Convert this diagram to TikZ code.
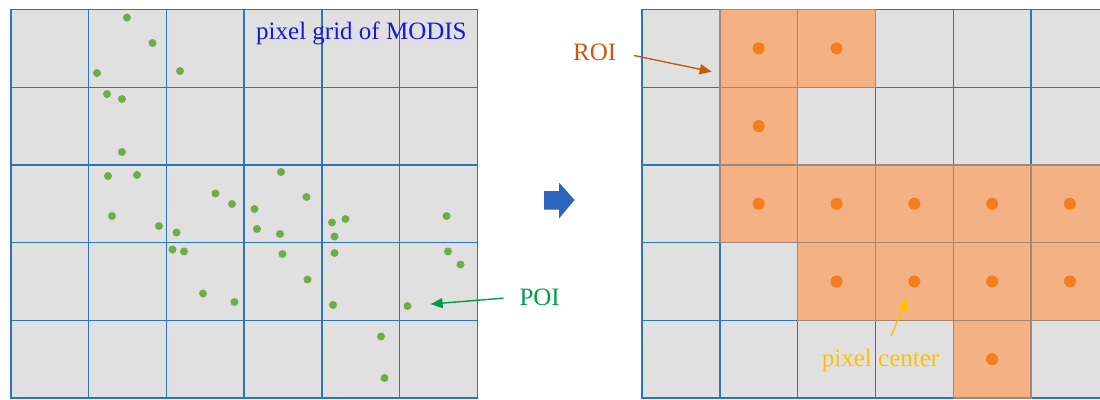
\documentclass[tikz,border=0pt]{standalone}
\usepackage{fontspec}
\setmainfont{Liberation Serif}
\usetikzlibrary{arrows.meta}

\definecolor{cellgray}{RGB}{224,224,224}
\definecolor{gridblue}{RGB}{46,117,182}
\definecolor{roifill}{RGB}{244,177,131}
\definecolor{roiline}{RGB}{160,135,120}
\definecolor{dotorange}{RGB}{245,125,30}
\definecolor{dotgreen}{RGB}{112,173,71}
\definecolor{poigreen}{RGB}{0,155,75}
\definecolor{roibrown}{RGB}{197,90,17}
\definecolor{centeryellow}{RGB}{255,192,0}
\definecolor{titleblue}{RGB}{25,25,210}
\definecolor{stepblue}{RGB}{45,100,190}

\begin{document}
\begin{tikzpicture}[x=1pt, y=-1pt,
    cell/.style={fill=cellgray, draw=gridblue, line width=1.4pt},
    roicell/.style={fill=roifill, draw=roiline, line width=1.4pt},
    poi/.style={circle, fill=dotgreen, inner sep=0pt, minimum size=8pt},
    pixdot/.style={circle, fill=dotorange, inner sep=0pt, minimum size=12pt},
    tag/.style={inner sep=0pt, anchor=base west, font=\fontsize{25}{30}\selectfont},
    >={Triangle[length=12pt, width=10pt]}]

\useasboundingbox (0,0) rectangle (1100,399);
\clip (0,0) rectangle (1100,399);

% Left grid with the POIs
\foreach \i in {0,...,5}
  \foreach \j in {0,...,4}
    \draw[cell] ({11+77.7*\i},{9.5+77.7*\j}) rectangle ++(77.7,77.7);
\foreach \x/\y [count=\k] in {127/17.5, 152.5/43, 97/73, 180/71, 107/94, 122/99,
    122/152, 108/176, 137/175, 281/172, 215.5/193.5, 306.5/197, 232/204,
    112/216, 254.5/209, 159/226, 176.5/232.5, 257/229, 280/234, 332/222.5,
    345.5/219, 334.5/236.5, 446.5/216, 172.5/249.5, 184/251.5, 282.5/254,
    334.5/253, 448/251.5, 460.5/264.5, 307.5/279.5, 203/293.5, 234.5/302,
    333/305, 381/336.5, 384.5/378}
  \node[poi] (g\k) at (\x,\y) {};
\node[poi] (gpoi) at (407.5,306) {};
\node[tag, text=titleblue] (title) at (256,39.3) {pixel grid of MODIS};
\node[tag, text=poigreen] (poilabel) at (519.3,305) {POI};
\draw[->, poigreen, line width=1.4pt, shorten <=16pt, shorten >=19pt] (poilabel.west) -- (gpoi);

% Step arrow
\fill[stepblue] (544,191) -- (559,191) -- (559,182.5) -- (574.5,200) -- (559,218.5)
  -- (559,209.5) -- (544,209.5) -- cycle;

% Right grid with the ROI
\foreach \i in {0,...,5}
  \foreach \j in {0,...,4}
    \draw[cell] ({642+77.8*\i},{9.5+77.7*\j}) rectangle ++(77.8,77.7);
\foreach \c/\r in {1/0, 2/0, 1/1, 1/2, 2/2, 3/2, 4/2, 5/2, 2/3, 3/3, 4/3, 5/3, 4/4} {
  \draw[roicell] ({642+77.8*\c},{9.5+77.7*\r}) rectangle ++(77.8,77.7);
  \node[pixdot] (p\c\r) at ({642+77.8*(\c+0.5)},{9.5+77.7*(\r+0.5)}) {};
}
\node[tag, text=roibrown] (roilabel) at (573,60) {ROI};
\coordinate (roitip) at (711.7,71.7);
\draw[->, roibrown, line width=1.4pt, shorten <=18pt] (roilabel.east) -- (roitip);
\node[tag, text=centeryellow] (pclabel) at (821.7,366.5) {pixel center};
\draw[->, centeryellow, line width=1.4pt, shorten <=14pt, shorten >=12pt]
  ([xshift=5pt]pclabel.north) -- (p33);
\end{tikzpicture}
\end{document}
